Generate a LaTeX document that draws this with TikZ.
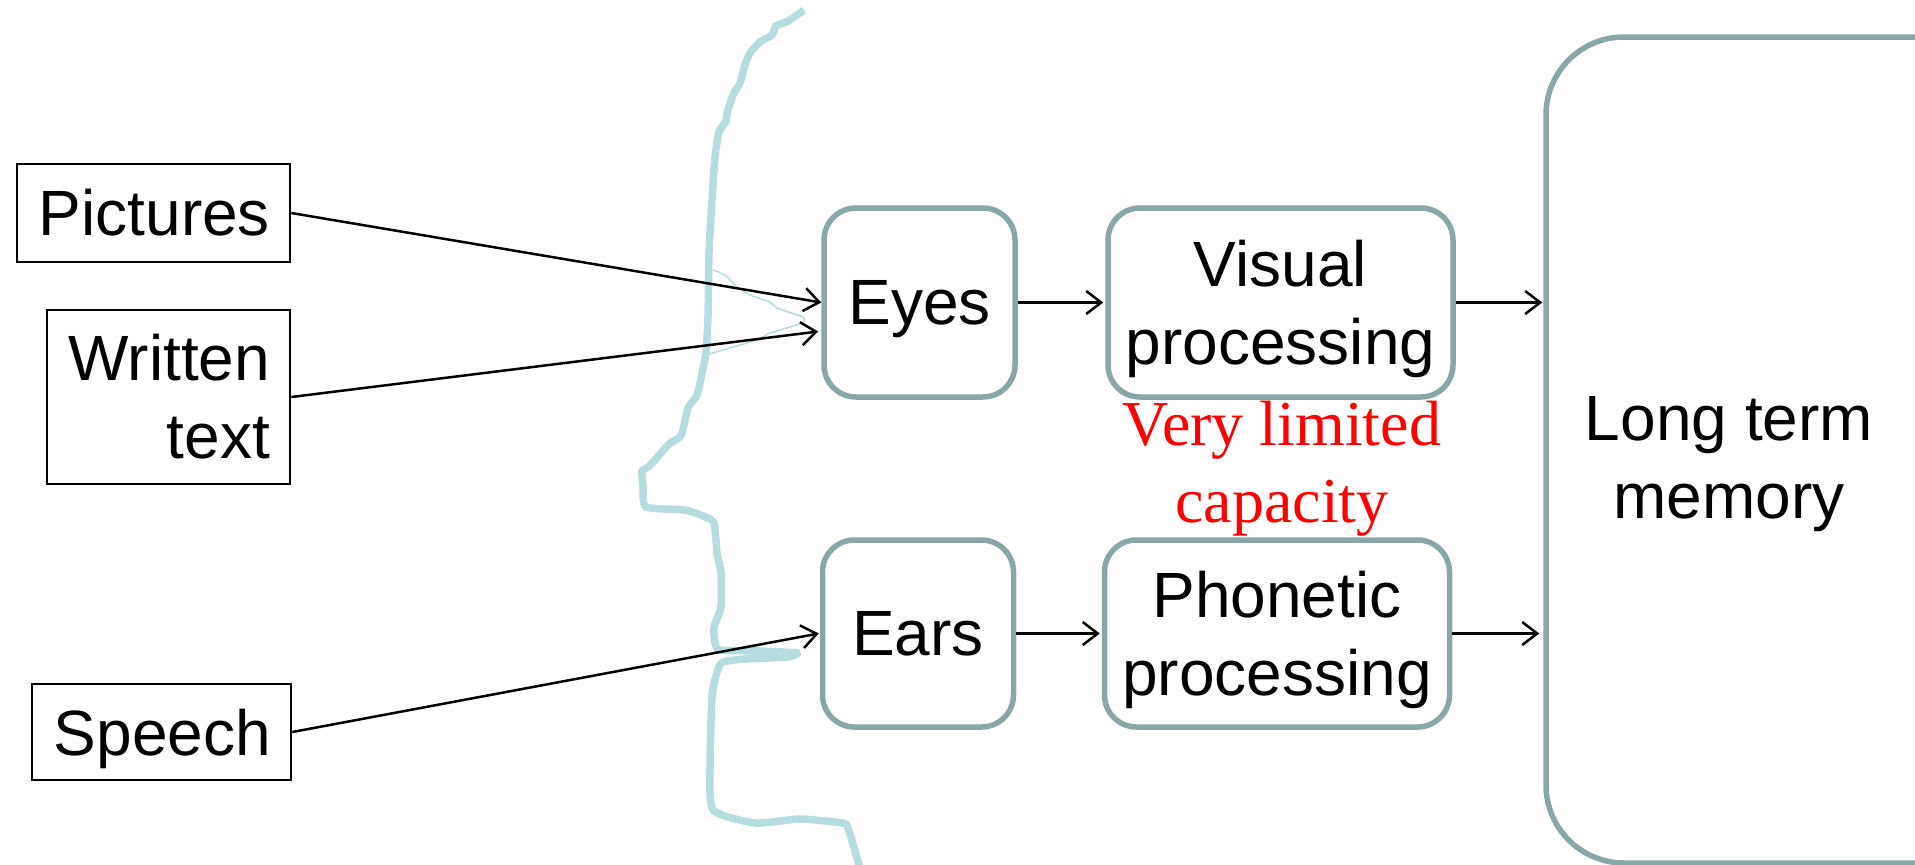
\documentclass[tikz,border=0pt]{standalone}
\usepackage{fontspec}
\setmainfont{Liberation Sans}
\newfontfamily\redserif{Liberation Serif}
\definecolor{boxborder}{RGB}{139,166,169}
\definecolor{faceline}{RGB}{183,220,224}
\usetikzlibrary{arrows.meta,calc}
\tikzset{
  inbox/.style={draw=black,line width=2.7pt,inner xsep=20pt,inner ysep=0pt,align=right,
    font=\fontsize{64}{78}\selectfont},
  procbox/.style={draw=boxborder,line width=5.5pt,rounded corners=32pt,align=center,
    inner sep=0pt,text depth=0pt,font=\fontsize{64}{78}\selectfont},
  link/.style={draw=black,line width=2.5pt,-{Straight Barb[length=15pt,width=23pt,line width=2.5pt]}},
  profile/.style={draw=faceline,line width=7.5pt,line join=round},
}
\begin{document}
\begin{tikzpicture}[x=1pt,y=-1pt]
  \useasboundingbox (0,0) rectangle (1915,865);
  % head outline
  \draw[profile] plot[smooth,tension=0.35] coordinates {
    (804,10) (788,21) (776,26) (772,35) (760,42) (750,53) (745,65) (740,83) (733,95)
    (727,113) (726,121) (719,132) (715,157) (712,200) (709,253) (708,317) (706,353)
    (702,373) (697,395) (688,408) (683,430) (680,437) (668,445) (655,460) (648,467)
    (642,471) (643,487) (646,507) (685,510) (703,516) (714,523) (717,553) (721,573)
    (721,607) (714,627) (715,643) (720,650) (760,651) (797,653) (787,657) (745,659)
    (723,662) (717,672) (712,697) (710,767) (713,810) (755,823) (800,819) (842,823)
    (848,828) (860,868)};
  \draw[draw=faceline,line width=1.5pt] plot[smooth,tension=0.35] coordinates {
    (713,270) (725,275) (737,287) (750,295) (770,302) (777,308) (803,317) (804,321)
    (800,324) (770,333) (757,340) (709,354)};
  % inputs
  \node[inbox,text width=233pt,minimum height=98pt] (pictures) at (153.5,213) {Pictures};
  \node[inbox,text width=203pt,minimum height=174pt] (written) at (168.5,397) {Written\\text};
  \node[inbox,text width=219pt,text depth=0pt,minimum height=96pt] (speech) at (161.5,732) {Speech};
  % senses and processing
  \node[procbox,minimum width=191pt,minimum height=189pt] (eyes) at (919.5,302.5) {Eyes};
  \node[procbox,minimum width=191pt,minimum height=187pt] (ears) at (918,633.5) {Ears};
  \node[procbox,minimum width=345pt,minimum height=189pt] (visual) at (1280.5,302.5) {Visual\\processing};
  \node[procbox,minimum width=345pt,minimum height=187pt] (phonetic) at (1277,633.5) {Phonetic\\processing};
  % the long box runs off the page on the right
  \node[procbox,rounded corners=78pt,minimum width=500pt,minimum height=826pt] (memory) at (1796,450) {};
  \node[align=center,text depth=0pt,font=\fontsize{64}{78}\selectfont] (memorytext) at (1729,457) {Long term\\memory};
  \node[align=center,text=red,text depth=0pt,font=\redserif\fontsize{64}{77}\selectfont] (limited) at (1282,462) {Very limited\\capacity};
  % connectors
  \draw[link] (pictures.east) -- (eyes.west);
  \draw[link] (written.east) -- ($(eyes.west)+(-3,29)$);
  \draw[link] (speech.east) -- ($(ears.west)+(-1,0)$);
  \draw[link] (eyes.east) -- ($(visual.west)+(-2,0)$);
  \draw[link] (ears.east) -- ($(phonetic.west)+(-2,0)$);
  \draw[link] (visual.east) -- ($(memory.west |- visual.east)+(-1,0)$);
  \draw[link] (phonetic.east) -- ($(memory.west |- phonetic.east)+(-4,0)$);
\end{tikzpicture}
\end{document}
